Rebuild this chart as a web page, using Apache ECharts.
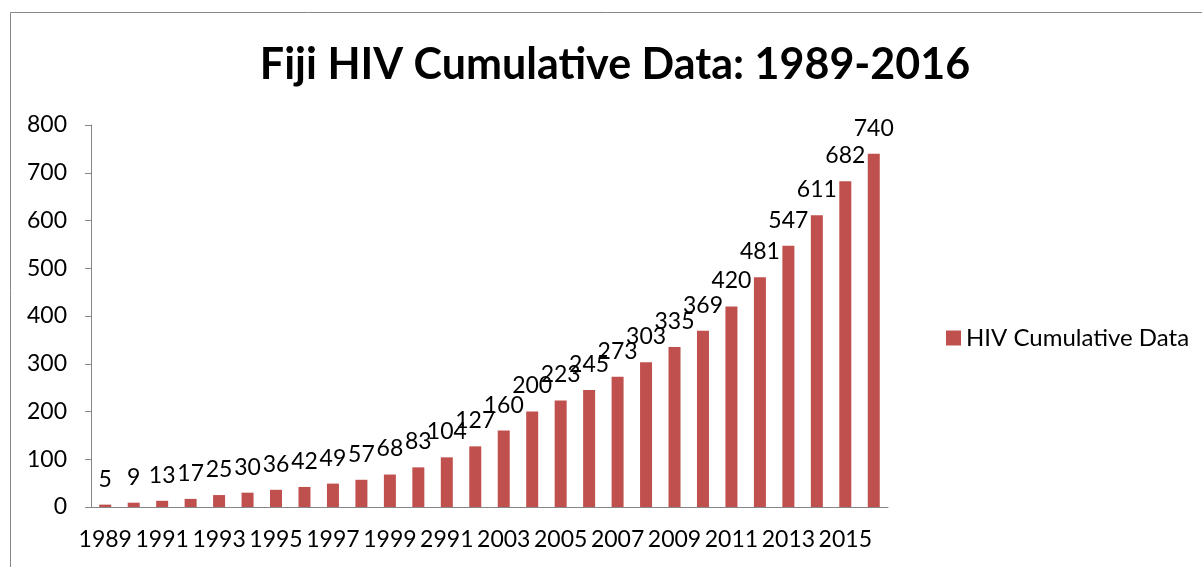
<!DOCTYPE html>
<html>
<head>
<meta charset="utf-8">
<script src="https://cdn.jsdelivr.net/npm/echarts@6/dist/echarts.min.js"></script>
<style>
  html, body { margin: 0; padding: 0; background: #fff; }
  #chart { width: 1202px; height: 567px; }
</style>
</head>
<body>
<div id="chart"></div>
<script>
// categories as printed on the source chart (2001 is labelled "2991" there)
var years = ["1989", "1990", "1991", "1992", "1993", "1994", "1995", "1996", "1997", "1998",
  "1999", "2000", "2991", "2002", "2003", "2004", "2005", "2006", "2007", "2008",
  "2009", "2010", "2011", "2012", "2013", "2014", "2015", "2016"];
var cumulative = [5, 9, 13, 17, 25, 30, 36, 42, 49, 57, 68, 83, 104, 127, 160, 200,
  223, 245, 273, 303, 335, 369, 420, 481, 547, 611, 682, 740];
var seriesName = "HIV Cumulative Data";
var titleText = "Fiji HIV Cumulative Data: 1989-2016";

var myChart = echarts.init(document.getElementById("chart"));
var axisColor = "#868686";
var font = "Lato, 'Open Sans', sans-serif";

var option = {
  animation: false,
  textStyle: { fontFamily: font },
  title: {
    text: titleText,
    left: 610,
    top: 39,
    textAlign: "center",
    textStyle: { fontFamily: font, fontSize: 43, fontWeight: "bold", color: "#000" }
  },
  graphic: [{
    type: "rect",
    shape: { x: 10.5, y: 12.5, width: 1300, height: 700 },
    style: { fill: "none", stroke: "#878787", lineWidth: 1 },
    silent: true
  }],
  legend: {
    data: [seriesName],
    left: 941,
    top: 321,
    itemWidth: 15,
    itemHeight: 15,
    icon: "rect",
    textStyle: { fontFamily: font, fontSize: 24, color: "#000" }
  },
  grid: { left: 91, right: 314, top: 125, bottom: 60, containLabel: false },
  xAxis: {
    type: "category",
    data: years,
    axisLine: { lineStyle: { color: axisColor } },
    axisTick: { interval: 0, length: 6, lineStyle: { color: axisColor } },
    axisLabel: { interval: 1, margin: 21, fontSize: 23, color: "#000", fontFamily: font },
    splitLine: { show: false }
  },
  yAxis: {
    type: "value",
    min: 0,
    max: 800,
    interval: 100,
    axisLine: { show: true, lineStyle: { color: axisColor } },
    axisTick: { show: true, length: 6, lineStyle: { color: axisColor } },
    axisLabel: { margin: 24, fontSize: 23, color: "#000", fontFamily: font },
    splitLine: { show: false }
  },
  series: [{
    name: seriesName,
    type: "bar",
    data: cumulative,
    barWidth: 12,
    itemStyle: { color: "#C0504D" },
    label: {
      show: true,
      position: "top",
      distance: 14,
      fontSize: 23,
      color: "#000",
      fontFamily: font
    }
  }]
};
option && myChart.setOption(option);
</script>
</body>
</html>
